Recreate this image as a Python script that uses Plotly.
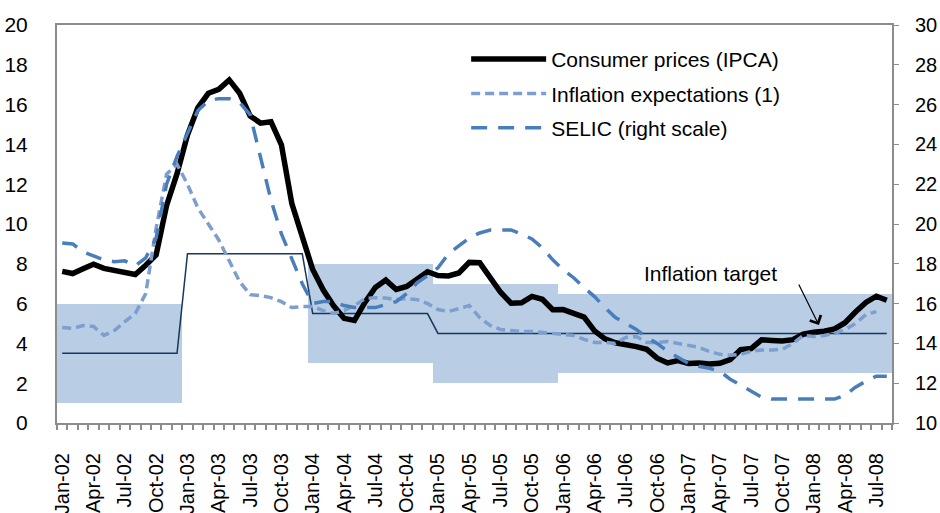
import pandas as pd
import plotly.graph_objs as go

# monthly observations Jan-02 .. Aug-08
months = pd.date_range("2002-01-01", periods=80, freq="MS").strftime("%b-%y").tolist()

ipca = [7.62, 7.51, 7.75, 7.98, 7.77, 7.66, 7.51, 7.46, 7.93, 8.45, 10.93, 12.53,
        14.47, 15.85, 16.57, 16.77, 17.24, 16.57, 15.43, 15.07, 15.14, 13.98, 11.02, 9.30,
        7.71, 6.69, 5.89, 5.26, 5.15, 6.06, 6.81, 7.18, 6.71, 6.86, 7.24, 7.60,
        7.41, 7.39, 7.54, 8.07, 8.05, 7.27, 6.57, 6.02, 6.04, 6.36, 6.22, 5.69,
        5.70, 5.51, 5.32, 4.63, 4.23, 4.03, 3.97, 3.84, 3.70, 3.26, 3.02, 3.14,
        2.99, 3.02, 2.96, 3.00, 3.18, 3.69, 3.74, 4.18, 4.15, 4.12, 4.19, 4.46,
        4.56, 4.61, 4.73, 5.04, 5.58, 6.06, 6.37, 6.17]

expectations = [4.8, 4.75, 4.9, 4.85, 4.4, 4.65, 5.1, 5.5, 6.5, 9.8, 12.5, 13.0,
                12.0, 10.8, 10.0, 9.2, 8.15, 7.1, 6.45, 6.4, 6.3, 6.1, 5.8, 5.85,
                5.85, 5.65, 5.5, 5.65, 5.9, 6.25, 6.3, 6.28, 6.2, 6.25, 6.2, 6.0,
                5.7, 5.6, 5.75, 5.9, 5.3, 4.9, 4.7, 4.65, 4.6, 4.6, 4.55, 4.5,
                4.45, 4.4, 4.2, 4.05, 4.05, 4.0, 4.3, 4.35, 4.05, 4.05, 4.1, 4.0,
                3.9, 3.8, 3.6, 3.45, 3.4, 3.45, 3.6, 3.67, 3.67, 3.7, 4.0, 4.4,
                4.35, 4.4, 4.5, 4.7, 5.0, 5.45, 5.6, None]

selic = [19.05, 19.0, 18.6, 18.4, 18.2, 18.1, 18.15, 17.9, 18.3, 19.3, 22.0, 23.4,
         24.6, 25.7, 26.2, 26.3, 26.3, 26.1, 25.5, 23.4, 21.2, 19.5, 18.2, 17.0,
         16.0, 16.1, 16.1, 15.9, 15.8, 15.8, 15.8, 15.95, 16.1, 16.5, 17.05, 17.4,
         17.8, 18.5, 18.9, 19.3, 19.55, 19.7, 19.7, 19.7, 19.5, 19.25, 18.8, 18.2,
         17.7, 17.3, 16.8, 16.35, 15.8, 15.3, 15.0, 14.7, 14.3, 14.0, 13.6, 13.3,
         13.0, 12.85, 12.75, 12.6, 12.2, 11.9, 11.6, 11.3, 11.2, 11.2, 11.2, 11.2,
         11.2, 11.2, 11.2, 11.4, 11.8, 12.1, 12.35, 12.35]

# yearly inflation target and tolerance band
target_years = [2002, 2003, 2004, 2005, 2006, 2007, 2008]
target_center = [3.5, 8.5, 5.5, 4.5, 4.5, 4.5, 4.5]
band_low = [1.0, None, 3.0, 2.0, 2.5, 2.5, 2.5]
band_high = [6.0, None, 8.0, 7.0, 6.5, 6.5, 6.5]

x = list(range(len(months)))
year_of = [2002 + i // 12 for i in x]
tgt = [target_center[target_years.index(y)] for y in year_of]
lo = [band_low[target_years.index(y)] for y in year_of]
hi = [band_high[target_years.index(y)] for y in year_of]
band_base = [l if l is not None else 0 for l in lo]
band_size = [(h - l) if l is not None else 0 for l, h in zip(lo, hi)]

FONT = "Liberation Sans, Arial, sans-serif"
GREY = "#8c8c8c"

fig = go.Figure()

fig.add_trace(go.Bar(x=x, y=band_size, base=band_base, width=1,
                     marker=dict(color="#b9cde5", line=dict(width=0)),
                     showlegend=False, hoverinfo="skip"))
fig.add_trace(go.Scatter(x=x, y=tgt, mode="lines",
                         line=dict(color="#17375e", width=1.5),
                         showlegend=False))

fig.add_trace(go.Scatter(x=x, y=ipca, mode="lines", name="Consumer prices (IPCA)",
                         legendgroup="a",
                         line=dict(color="black", width=5.5)))
fig.add_trace(go.Scatter(x=x, y=expectations, mode="lines", name="Inflation expectations (1)",
                         legendgroup="b",
                         line=dict(color="#7c9fcf", width=3.5, dash="9px,5px")))
fig.add_trace(go.Scatter(x=x, y=selic, mode="lines", name="SELIC (right scale)",
                         legendgroup="c", yaxis="y2",
                         line=dict(color="#4a7ebb", width=3.5, dash="16px,11px")))

# "Inflation target" label with arrow
fig.add_annotation(x=62.1, y=7.49, xref="x", yref="y", text="Inflation target",
                   showarrow=False, font=dict(size=21, color="black"))
fig.add_annotation(x=72.5, y=4.92, xref="x", yref="y", ax=70.5, ay=7.03,
                   axref="x", ayref="y", text="", showarrow=True,
                   arrowhead=4, arrowsize=2, arrowwidth=1.2, arrowcolor="black")

fig.update_xaxes(
    range=[-0.5, len(months) - 0.5],
    tickmode="array", tickvals=x[::3], ticktext=months[::3],
    tickangle=-90, ticks="", ticklabelstandoff=20, automargin=False,
    tickfont=dict(size=20),
    minor=dict(ticks="outside", tick0=-0.5, dtick=1, ticklen=5, tickcolor=GREY, tickwidth=1.5),
    showline=True, linecolor=GREY, linewidth=2, mirror=True,
    showgrid=False, zeroline=False,
)
fig.update_layout(
    yaxis=dict(range=[0, 20], dtick=2, showline=True, linecolor=GREY, linewidth=2,
               showgrid=False, zeroline=False, ticks="", ticklabelstandoff=23,
               automargin=False, tickfont=dict(size=21)),
    yaxis2=dict(range=[10, 30], dtick=2, overlaying="y", side="right",
                showline=True, linecolor=GREY, linewidth=2, showgrid=False,
                zeroline=False, ticks="outside", ticklen=5, tickcolor=GREY,
                ticklabelstandoff=12, automargin=False, tickfont=dict(size=20)),
    width=940, height=513,
    margin=dict(l=57, r=48, t=25, b=90),
    plot_bgcolor="white", paper_bgcolor="white",
    font=dict(family=FONT, size=20, color="black"),
    barmode="overlay", bargap=0,
    legend=dict(x=0.49, y=0.965, xanchor="left", yanchor="top",
                bgcolor="rgba(0,0,0,0)", itemwidth=75, tracegroupgap=4,
                font=dict(size=21)),
    showlegend=True,
)

# the page body has a default 8px margin; drop it so the figure fills the window
fig.write_html("out.html", config={"displayModeBar": False},
               post_script="document.body.style.margin='0px';")
